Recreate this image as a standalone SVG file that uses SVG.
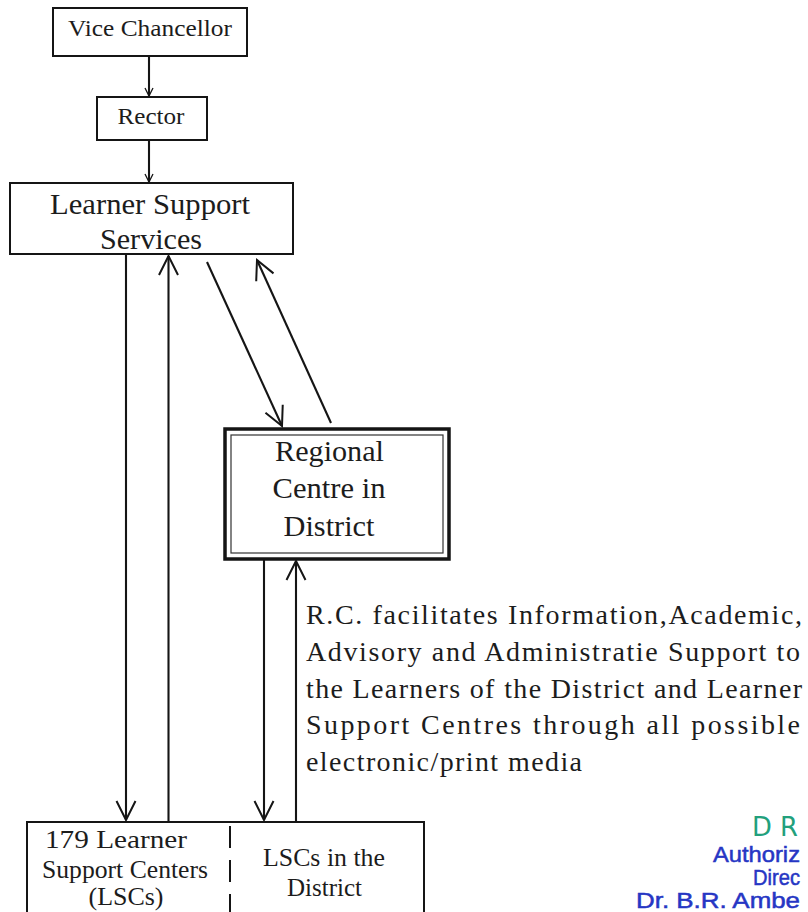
<svg xmlns="http://www.w3.org/2000/svg" width="808" height="912" viewBox="0 0 808 912">
<style>
.box{fill:#fff;stroke:#151515;stroke-width:2}
.t{font-family:"Liberation Serif","Times New Roman",serif;fill:#1c1c1c;text-anchor:middle}
.p{font-family:"Liberation Serif","Times New Roman",serif;fill:#1c1c1c;font-size:28px}
.c{stroke:#151515;stroke-width:2.1;fill:none}
.sig{font-family:"Liberation Sans",Arial,sans-serif;fill:#2636c4;stroke:#2636c4;stroke-width:0.5;font-size:22px}
</style>
<defs>
<marker id="ah" viewBox="-21 -12 23 24" markerWidth="23" markerHeight="24" refX="0" refY="0" orient="auto" markerUnits="userSpaceOnUse">
<path d="M-19,-9.5 L0,0 L-19,9.5" fill="none" stroke="#151515" stroke-width="2"/>
</marker>
<marker id="ahs" viewBox="-10 -6 11 12" markerWidth="11" markerHeight="12" refX="0" refY="0" orient="auto" markerUnits="userSpaceOnUse">
<path d="M-8,-4 L0,0 L-8,4" fill="none" stroke="#151515" stroke-width="1.3"/>
</marker>
</defs>
<rect width="808" height="912" fill="#fff"/>
<g id="connectors">
<line class="c" x1="149" y1="56" x2="149" y2="96" stroke-width="1.4" marker-end="url(#ahs)"/>
<line class="c" x1="149" y1="140" x2="149" y2="182" stroke-width="1.4" marker-end="url(#ahs)"/>
<line class="c" x1="126" y1="254" x2="126" y2="820" marker-end="url(#ah)"/>
<line class="c" x1="168.5" y1="822" x2="168.5" y2="256" marker-end="url(#ah)"/>
<line class="c" x1="207" y1="262" x2="282" y2="426" stroke-width="1.8" marker-end="url(#ah)"/>
<line class="c" x1="331" y1="423" x2="257" y2="260" stroke-width="1.8" marker-end="url(#ah)"/>
<line class="c" x1="264" y1="559" x2="264" y2="820" marker-end="url(#ah)"/>
<line class="c" x1="296" y1="822" x2="296" y2="561" marker-end="url(#ah)"/>
</g>
<g id="vice-chancellor">
<rect class="box" x="53" y="8" width="194" height="48"/>
<text class="t" x="150" y="36" font-size="23" textLength="164" lengthAdjust="spacingAndGlyphs">Vice Chancellor</text>
</g>
<g id="rector">
<rect class="box" x="97" y="97" width="110" height="43"/>
<text class="t" x="151" y="124" font-size="24" textLength="67" lengthAdjust="spacingAndGlyphs">Rector</text>
</g>
<g id="learner-support-services">
<rect class="box" x="10" y="183" width="283" height="71"/>
<text class="t" x="150" y="214" font-size="30" textLength="200" lengthAdjust="spacingAndGlyphs">Learner Support</text>
<text class="t" x="151" y="249" font-size="30" textLength="102" lengthAdjust="spacingAndGlyphs">Services</text>
</g>
<g id="regional-centre">
<rect x="225" y="429" width="224" height="130" fill="#fff" stroke="#151515" stroke-width="3.5"/>
<rect x="231" y="435" width="212" height="118" fill="none" stroke="#333" stroke-width="1.2"/>
<text class="t" x="329.5" y="461" font-size="29" textLength="109" lengthAdjust="spacingAndGlyphs">Regional</text>
<text class="t" x="329" y="498" font-size="29" textLength="113" lengthAdjust="spacingAndGlyphs">Centre in</text>
<text class="t" x="329" y="536" font-size="29" textLength="91" lengthAdjust="spacingAndGlyphs">District</text>
</g>
<g id="note">
<text class="p" x="306" y="624" textLength="496" lengthAdjust="spacing">R.C. facilitates Information,Academic,</text>
<text class="p" x="306" y="661" textLength="494" lengthAdjust="spacing">Advisory and Administratie Support to</text>
<text class="p" x="306" y="698" textLength="496" lengthAdjust="spacing">the Learners of the District and Learner</text>
<text class="p" x="306" y="734" textLength="494" lengthAdjust="spacing">Support Centres through all possible</text>
<text class="p" x="306" y="771" textLength="276" lengthAdjust="spacing">electronic/print media</text>
</g>
<g id="lscs">
<rect class="box" x="27" y="822" width="397" height="100"/>
<line x1="230" y1="826" x2="230" y2="912" stroke="#151515" stroke-width="2" stroke-dasharray="22 12"/>
<text class="t" x="116" y="848" font-size="26" textLength="142" lengthAdjust="spacingAndGlyphs">179 Learner</text>
<text class="t" x="125" y="878" font-size="26" textLength="166" lengthAdjust="spacingAndGlyphs">Support Centers</text>
<text class="t" x="126" y="905" font-size="26" textLength="75" lengthAdjust="spacingAndGlyphs">(LSCs)</text>
<text class="t" x="324" y="866" font-size="26" textLength="122" lengthAdjust="spacingAndGlyphs">LSCs in the</text>
<text class="t" x="324.5" y="896" font-size="26" textLength="75" lengthAdjust="spacingAndGlyphs">District</text>
</g>
<g id="stamp">
<text x="752" y="836" font-family="'DejaVu Sans',sans-serif" font-size="27" fill="#22a07c" textLength="46" lengthAdjust="spacingAndGlyphs">D R</text>
<text class="sig" x="713" y="862" textLength="87" lengthAdjust="spacingAndGlyphs">Authoriz</text>
<text class="sig" x="753" y="885" textLength="47" lengthAdjust="spacingAndGlyphs">Direc</text>
<text class="sig" x="636" y="908" textLength="164" lengthAdjust="spacingAndGlyphs">Dr. B.R. Ambe</text>
</g>
</svg>
